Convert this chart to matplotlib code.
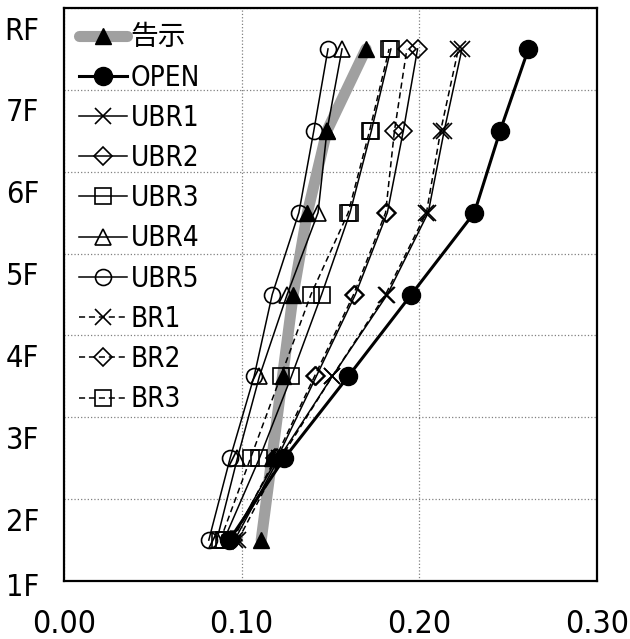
import matplotlib
matplotlib.use('Agg')
import matplotlib.pyplot as plt
import matplotlib.transforms as mtransforms
from matplotlib import font_manager
from matplotlib.ticker import FormatStrFormatter

# narrow latin face if the box has one, CJK face for 告示
names = {f.name for f in font_manager.fontManager.ttflist}
if 'Liberation Sans Narrow' in names:
    plt.rcParams['font.family'] = ['Liberation Sans Narrow', 'Noto Sans CJK JP']
else:
    plt.rcParams['font.family'] = ['DejaVu Sans', 'Noto Sans CJK JP']
    plt.rcParams['font.stretch'] = 'condensed'

# storey mid-heights (1F-2F ... 7F-RF) and floor labels
story_pos = [0.5, 1.5, 2.5, 3.5, 4.5, 5.5, 6.5]
floor_labels = ['1F', '2F', '3F', '4F', '5F', '6F', '7F', 'RF']
x_ticks = [0.0, 0.1, 0.2, 0.3]

# values
kokuji = [0.111, 0.117, 0.123, 0.129, 0.137, 0.148, 0.170]
open_ = [0.093, 0.124, 0.160, 0.1955, 0.231, 0.2455, 0.2614]
ubr1 = [0.096, 0.121, 0.151, 0.182, 0.205, 0.214, 0.224]
ubr2 = [0.094, 0.120, 0.142, 0.164, 0.182, 0.191, 0.199]
ubr3 = [0.090, 0.110, 0.128, 0.145, 0.161, 0.173, 0.184]
ubr4 = [0.086, 0.0976, 0.110, 0.1256, 0.143, 0.148, 0.1565]
ubr5 = [0.0815, 0.0935, 0.107, 0.1172, 0.1322, 0.1406, 0.1486]
br1 = [0.098, 0.122, 0.151, 0.181, 0.204, 0.212, 0.222]
br2 = [0.095, 0.119, 0.141, 0.163, 0.181, 0.186, 0.193]
br3 = [0.088, 0.105, 0.122, 0.139, 0.160, 0.172, 0.183]

fig = plt.figure(figsize=(6.3, 6.39), dpi=100)
ax = fig.add_axes([64 / 630, 1 - 581 / 639, 533 / 630, 573 / 639])

ax.plot(kokuji, story_pos, color='#a0a0a0', lw=8, solid_capstyle='round',
        marker='^', ms=12, mfc='k', mec='k', label='告示')
ax.plot(open_, story_pos, color='k', lw=2.2, marker='o', ms=13,
        mfc='k', mec='k', label='OPEN')

thin = dict(color='k', lw=1.1, mfc='none', mec='k', mew=1.2)
dash = (0, (4, 2.5))
ax.plot(ubr1, story_pos, marker='x', ms=12, ls='-', label='UBR1', **thin)
ax.plot(ubr2, story_pos, marker='D', ms=9, ls='-', label='UBR2', **thin)
ax.plot(ubr3, story_pos, marker='s', ms=11, ls='-', label='UBR3', **thin)
ax.plot(ubr4, story_pos, marker='^', ms=12, ls='-', label='UBR4', **thin)
ax.plot(ubr5, story_pos, marker='o', ms=11.5, ls='-', label='UBR5', **thin)
ax.plot(br1, story_pos, marker='x', ms=12, ls=dash, label='BR1', **thin)
ax.plot(br2, story_pos, marker='D', ms=9, ls=dash, label='BR2', **thin)
ax.plot(br3, story_pos, marker='s', ms=11, ls=dash, label='BR3', **thin)

ax.set_xlim(0, 0.30)
ax.set_ylim(0, 7)
ax.set_xticks(x_ticks)
ax.xaxis.set_major_formatter(FormatStrFormatter('%.2f'))
ax.set_yticks(range(len(floor_labels)))
ax.set_yticklabels(floor_labels)
ax.tick_params(axis='both', length=0)
ax.tick_params(axis='x', pad=20, labelsize=23)
ax.tick_params(axis='y', pad=18, labelsize=22)

# floor names sit below their grid line (1F only slightly, above the x labels)
for i, lab in enumerate(ax.get_yticklabels()):
    dy = -0.03 if i == 0 else -0.2
    lab.set_transform(lab.get_transform() +
                      mtransforms.ScaledTranslation(0, dy, fig.dpi_scale_trans))

ax.grid(True, color='#808080', ls=':', lw=0.9)
for s in ax.spines.values():
    s.set_linewidth(1.6)

leg = ax.legend(loc='upper left', bbox_to_anchor=(0.0, 1.0), frameon=False,
                fontsize=20, handlelength=1.7, handletextpad=0.15,
                labelspacing=0.44, borderaxespad=0.3, borderpad=0.25)

fig.savefig('out.png', dpi=100)
